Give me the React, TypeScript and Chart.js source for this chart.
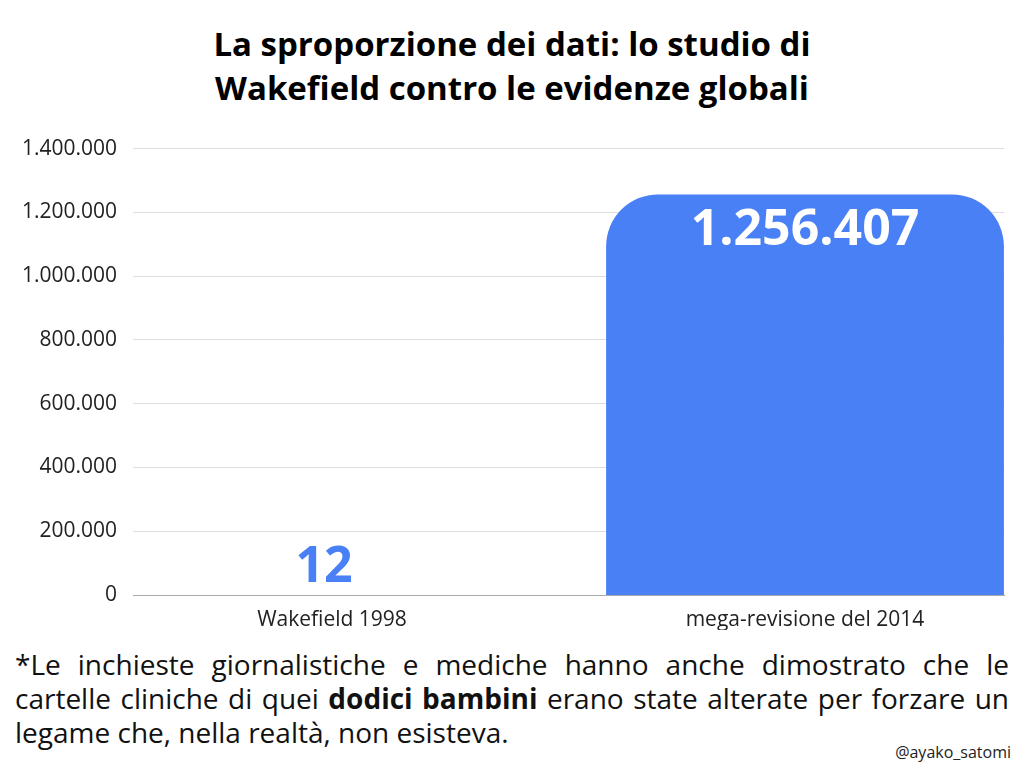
import { useEffect, useRef } from "react"
import { Chart, registerables } from "chart.js"

Chart.register(...registerables)

const categories = ["Wakefield 1998", "mega-revisione del 2014"]
const positions = [0, 1]
const values = [12, 1256407]
const yTicks = [0, 200000, 400000, 600000, 800000, 1000000, 1200000, 1400000]

const BLUE = "#4a80f5"
const FONT = "'Open Sans', sans-serif"

const fmt = (v: number) => v.toLocaleString("it-IT", { useGrouping: true })

// draws the big value labels: inside the tall bar, above the short one
const valueLabels = {
  id: "valueLabels",
  afterDatasetsDraw(chart: Chart) {
    const ctx = chart.ctx
    const meta = chart.getDatasetMeta(0)
    const base = chart.scales.y.getPixelForValue(0)
    ctx.save()
    ctx.textAlign = "center"
    meta.data.forEach((bar: any, i: number) => {
      const v = values[i]
      const h = base - bar.y
      if (h > 100) {
        ctx.fillStyle = "#ffffff"
        ctx.font = `bold 50px ${FONT}`
        ctx.textBaseline = "top"
        ctx.fillText(fmt(v), bar.x, bar.y + 11)
      } else {
        ctx.fillStyle = BLUE
        ctx.font = `bold 50px ${FONT}`
        ctx.textBaseline = "bottom"
        ctx.fillText(fmt(v), bar.x - 8, bar.y - 2)
      }
    })
    ctx.restore()
  },
}

function ProportionChart() {
  const chartRef = useRef<HTMLCanvasElement>(null)
  const chartInstance = useRef<Chart | null>(null)

  useEffect(() => {
    if (!chartRef.current) return
    if (chartInstance.current) chartInstance.current.destroy()
    const ctx = chartRef.current.getContext("2d")
    if (!ctx) return

    chartInstance.current = new Chart(ctx, {
      type: "bar",
      data: {
        datasets: [
          {
            data: positions.map((x, i) => ({ x, y: values[i] })),
            backgroundColor: BLUE,
            borderRadius: { topLeft: 52, topRight: 52, bottomLeft: 0, bottomRight: 0 },
            borderSkipped: false,
            inflateAmount: 0,
            categoryPercentage: 1,
            barPercentage: 0.841,
          },
        ],
      },
      options: {
        responsive: true,
        maintainAspectRatio: false,
        animation: false,
        layout: { padding: { top: 10, right: 20, left: 0, bottom: 0 } },
        plugins: {
          legend: { display: false },
          tooltip: { enabled: false },
        },
        scales: {
          x: {
            type: "linear",
            offset: false,
            min: -0.4207,
            max: 1.4207,
            grid: { display: false },
            // baseline drawn as the x border so bars don't get nudged over it
            border: { display: true, color: "#aaaaaa", width: 1 },
            afterBuildTicks: (scale: any) => {
              scale.ticks = positions.map((value) => ({ value }))
            },
            afterFit: (scale: any) => {
              scale.height = 35
            },
            ticks: {
              padding: 4,
              color: "#222",
              font: { family: FONT, size: 21 },
              callback: (v: any) => categories[v] ?? "",
            },
          },
          y: {
            min: 0,
            max: 1400000,
            afterBuildTicks: (scale: any) => {
              scale.ticks = yTicks.map((value) => ({ value }))
            },
            afterFit: (scale: any) => {
              scale.width = 133
            },
            border: { display: false },
            grid: {
              drawTicks: false,
              color: "#dddddd",
              lineWidth: (c: any) => (c.tick && c.tick.value === 0 ? 0 : 1),
            },
            ticks: {
              padding: 16,
              color: "#222",
              font: { family: FONT, size: 21 },
              callback: (v: any) => fmt(Number(v)),
            },
          },
        },
      },
      plugins: [valueLabels],
    })

    return () => {
      if (chartInstance.current) {
        chartInstance.current.destroy()
        chartInstance.current = null
      }
    }
  }, [])

  return (
    <div style={{ position: "absolute", left: 0, top: 120, width: 1024, height: 510 }}>
      <canvas ref={chartRef} />
    </div>
  )
}

export default function App() {
  return (
    <div
      style={{
        position: "fixed",
        left: 0,
        top: 0,
        width: 1024,
        height: 768,
        background: "#fff",
        fontFamily: FONT,
        color: "#000",
        overflow: "hidden",
      }}
    >
      <div
        style={{
          position: "absolute",
          top: 22,
          left: 0,
          width: 1024,
          textAlign: "center",
          fontWeight: 700,
          fontSize: 33,
          lineHeight: "44px",
        }}
      >
        La sproporzione dei dati: lo studio di
        <br />
        Wakefield contro le evidenze globali
      </div>
      <ProportionChart />
      <div
        style={{
          position: "absolute",
          top: 647,
          left: 15,
          width: 994,
          fontSize: 28,
          lineHeight: "34px",
          textAlign: "justify",
          color: "#111",
        }}
      >
        *Le inchieste giornalistiche e mediche hanno anche dimostrato che le cartelle cliniche di quei{" "}
        <b>dodici bambini</b> erano state alterate per forzare un legame che, nella realtà, non esisteva.
      </div>
      <div style={{ position: "absolute", top: 741, right: 13, fontSize: 16, lineHeight: "22px", color: "#222" }}>
        @ayako_satomi
      </div>
    </div>
  )
}
